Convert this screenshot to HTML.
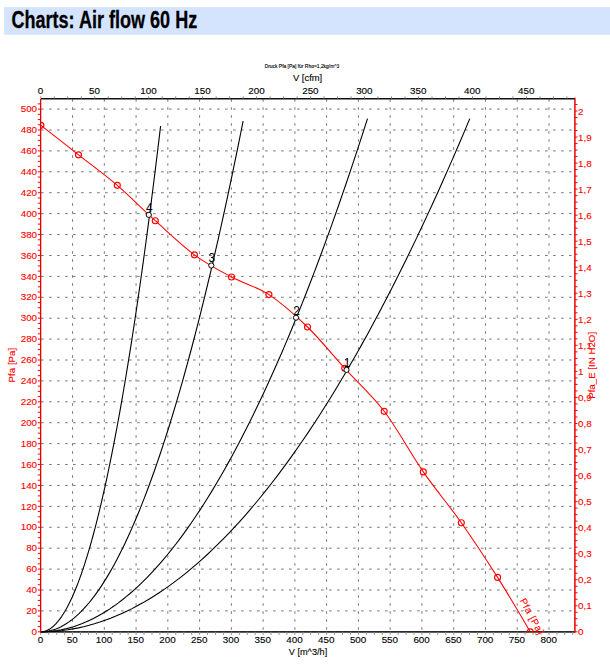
<!DOCTYPE html>
<html lang="en"><head><meta charset="utf-8"><title>Charts: Air flow 60 Hz</title>
<style>html,body{margin:0;padding:0;background:#fff;}body{width:610px;height:665px;overflow:hidden;}svg{display:block;font-family:"Liberation Sans",sans-serif;}.t{font-size:9.85px;fill:#000;stroke:#000;stroke-width:0.12px;} .r{font-size:9.85px;fill:#ff0000;stroke:#ff0000;stroke-width:0.12px;}</style></head><body>
<svg width="610" height="665" viewBox="0 0 610 665">
<rect width="610" height="665" fill="#fff"/>
<rect x="4.1" y="7.05" width="606" height="27.75" fill="#d5e4fe"/>
<text x="11.4" y="28" font-size="23.4" font-weight="bold" fill="#000" stroke="#000" stroke-width="0.3" textLength="185.8" lengthAdjust="spacingAndGlyphs">Charts: Air flow 60 Hz</text>
<text x="302" y="68.3" font-size="5" fill="#000" stroke="#000" stroke-width="0.12" text-anchor="middle" textLength="74.7" lengthAdjust="spacingAndGlyphs">Druck Pfa [Pa] für Rho=1,2kg/m^3</text>
<text class="t" x="307.6" y="81.3" text-anchor="middle" textLength="29.3" lengthAdjust="spacingAndGlyphs">V [cfm]</text>
<defs><clipPath id="pc"><rect x="40.8" y="98.5" width="534.2" height="534.3"/></clipPath></defs>
<g stroke="#7b7b7b" stroke-width="1" stroke-dasharray="2.7 5.3" fill="none">
<line x1="41" x2="575" y1="610.89" y2="610.89"/>
<line x1="41" x2="575" y1="589.98" y2="589.98"/>
<line x1="41" x2="575" y1="569.08" y2="569.08"/>
<line x1="41" x2="575" y1="548.17" y2="548.17"/>
<line x1="41" x2="575" y1="527.26" y2="527.26"/>
<line x1="41" x2="575" y1="506.35" y2="506.35"/>
<line x1="41" x2="575" y1="485.44" y2="485.44"/>
<line x1="41" x2="575" y1="464.54" y2="464.54"/>
<line x1="41" x2="575" y1="443.63" y2="443.63"/>
<line x1="41" x2="575" y1="422.72" y2="422.72"/>
<line x1="41" x2="575" y1="401.81" y2="401.81"/>
<line x1="41" x2="575" y1="380.9" y2="380.9"/>
<line x1="41" x2="575" y1="360" y2="360"/>
<line x1="41" x2="575" y1="339.09" y2="339.09"/>
<line x1="41" x2="575" y1="318.18" y2="318.18"/>
<line x1="41" x2="575" y1="297.27" y2="297.27"/>
<line x1="41" x2="575" y1="276.36" y2="276.36"/>
<line x1="41" x2="575" y1="255.46" y2="255.46"/>
<line x1="41" x2="575" y1="234.55" y2="234.55"/>
<line x1="41" x2="575" y1="213.64" y2="213.64"/>
<line x1="41" x2="575" y1="192.73" y2="192.73"/>
<line x1="41" x2="575" y1="171.82" y2="171.82"/>
<line x1="41" x2="575" y1="150.92" y2="150.92"/>
<line x1="41" x2="575" y1="130.01" y2="130.01"/>
<line x1="41" x2="575" y1="109.1" y2="109.1"/>
</g>
<g stroke="#787878" stroke-width="1" stroke-dasharray="2.6 5.4" fill="none">
<line x1="72.56" x2="72.56" y1="99.2" y2="631.8"/>
<line x1="104.32" x2="104.32" y1="99.2" y2="631.8"/>
<line x1="136.08" x2="136.08" y1="99.2" y2="631.8"/>
<line x1="167.84" x2="167.84" y1="99.2" y2="631.8"/>
<line x1="199.6" x2="199.6" y1="99.2" y2="631.8"/>
<line x1="231.36" x2="231.36" y1="99.2" y2="631.8"/>
<line x1="263.12" x2="263.12" y1="99.2" y2="631.8"/>
<line x1="294.88" x2="294.88" y1="99.2" y2="631.8"/>
<line x1="326.64" x2="326.64" y1="99.2" y2="631.8"/>
<line x1="358.4" x2="358.4" y1="99.2" y2="631.8"/>
<line x1="390.16" x2="390.16" y1="99.2" y2="631.8"/>
<line x1="421.92" x2="421.92" y1="99.2" y2="631.8"/>
<line x1="453.68" x2="453.68" y1="99.2" y2="631.8"/>
<line x1="485.44" x2="485.44" y1="99.2" y2="631.8"/>
<line x1="517.2" x2="517.2" y1="99.2" y2="631.8"/>
<line x1="548.96" x2="548.96" y1="99.2" y2="631.8"/>
</g>
<line x1="40.8" x2="575" y1="98.7" y2="98.7" stroke="#111" stroke-width="1.4"/>
<line x1="40.8" x2="575" y1="631.85" y2="631.85" stroke="#2a2a2a" stroke-width="1.9"/>
<g stroke="#8a8a8a" stroke-width="1">
<line x1="40.8" x2="40.8" y1="96.3" y2="98.5"/>
<line x1="54.29" x2="54.29" y1="96.3" y2="98.5"/>
<line x1="67.78" x2="67.78" y1="96.3" y2="98.5"/>
<line x1="81.27" x2="81.27" y1="96.3" y2="98.5"/>
<line x1="94.76" x2="94.76" y1="96.3" y2="98.5"/>
<line x1="108.25" x2="108.25" y1="96.3" y2="98.5"/>
<line x1="121.74" x2="121.74" y1="96.3" y2="98.5"/>
<line x1="135.23" x2="135.23" y1="96.3" y2="98.5"/>
<line x1="148.72" x2="148.72" y1="96.3" y2="98.5"/>
<line x1="162.21" x2="162.21" y1="96.3" y2="98.5"/>
<line x1="175.7" x2="175.7" y1="96.3" y2="98.5"/>
<line x1="189.19" x2="189.19" y1="96.3" y2="98.5"/>
<line x1="202.68" x2="202.68" y1="96.3" y2="98.5"/>
<line x1="216.17" x2="216.17" y1="96.3" y2="98.5"/>
<line x1="229.66" x2="229.66" y1="96.3" y2="98.5"/>
<line x1="243.15" x2="243.15" y1="96.3" y2="98.5"/>
<line x1="256.64" x2="256.64" y1="96.3" y2="98.5"/>
<line x1="270.13" x2="270.13" y1="96.3" y2="98.5"/>
<line x1="283.62" x2="283.62" y1="96.3" y2="98.5"/>
<line x1="297.11" x2="297.11" y1="96.3" y2="98.5"/>
<line x1="310.6" x2="310.6" y1="96.3" y2="98.5"/>
<line x1="324.09" x2="324.09" y1="96.3" y2="98.5"/>
<line x1="337.58" x2="337.58" y1="96.3" y2="98.5"/>
<line x1="351.07" x2="351.07" y1="96.3" y2="98.5"/>
<line x1="364.56" x2="364.56" y1="96.3" y2="98.5"/>
<line x1="378.05" x2="378.05" y1="96.3" y2="98.5"/>
<line x1="391.54" x2="391.54" y1="96.3" y2="98.5"/>
<line x1="405.03" x2="405.03" y1="96.3" y2="98.5"/>
<line x1="418.52" x2="418.52" y1="96.3" y2="98.5"/>
<line x1="432.01" x2="432.01" y1="96.3" y2="98.5"/>
<line x1="445.5" x2="445.5" y1="96.3" y2="98.5"/>
<line x1="458.99" x2="458.99" y1="96.3" y2="98.5"/>
<line x1="472.48" x2="472.48" y1="96.3" y2="98.5"/>
<line x1="485.97" x2="485.97" y1="96.3" y2="98.5"/>
<line x1="499.46" x2="499.46" y1="96.3" y2="98.5"/>
<line x1="512.95" x2="512.95" y1="96.3" y2="98.5"/>
<line x1="526.44" x2="526.44" y1="96.3" y2="98.5"/>
<line x1="539.93" x2="539.93" y1="96.3" y2="98.5"/>
<line x1="553.42" x2="553.42" y1="96.3" y2="98.5"/>
<line x1="566.91" x2="566.91" y1="96.3" y2="98.5"/>
<line x1="40.8" x2="40.8" y1="631.8" y2="634.8"/>
<line x1="48.74" x2="48.74" y1="631.8" y2="634.8"/>
<line x1="56.68" x2="56.68" y1="631.8" y2="634.8"/>
<line x1="64.62" x2="64.62" y1="631.8" y2="634.8"/>
<line x1="72.56" x2="72.56" y1="631.8" y2="634.8"/>
<line x1="80.5" x2="80.5" y1="631.8" y2="634.8"/>
<line x1="88.44" x2="88.44" y1="631.8" y2="634.8"/>
<line x1="96.38" x2="96.38" y1="631.8" y2="634.8"/>
<line x1="104.32" x2="104.32" y1="631.8" y2="634.8"/>
<line x1="112.26" x2="112.26" y1="631.8" y2="634.8"/>
<line x1="120.2" x2="120.2" y1="631.8" y2="634.8"/>
<line x1="128.14" x2="128.14" y1="631.8" y2="634.8"/>
<line x1="136.08" x2="136.08" y1="631.8" y2="634.8"/>
<line x1="144.02" x2="144.02" y1="631.8" y2="634.8"/>
<line x1="151.96" x2="151.96" y1="631.8" y2="634.8"/>
<line x1="159.9" x2="159.9" y1="631.8" y2="634.8"/>
<line x1="167.84" x2="167.84" y1="631.8" y2="634.8"/>
<line x1="175.78" x2="175.78" y1="631.8" y2="634.8"/>
<line x1="183.72" x2="183.72" y1="631.8" y2="634.8"/>
<line x1="191.66" x2="191.66" y1="631.8" y2="634.8"/>
<line x1="199.6" x2="199.6" y1="631.8" y2="634.8"/>
<line x1="207.54" x2="207.54" y1="631.8" y2="634.8"/>
<line x1="215.48" x2="215.48" y1="631.8" y2="634.8"/>
<line x1="223.42" x2="223.42" y1="631.8" y2="634.8"/>
<line x1="231.36" x2="231.36" y1="631.8" y2="634.8"/>
<line x1="239.3" x2="239.3" y1="631.8" y2="634.8"/>
<line x1="247.24" x2="247.24" y1="631.8" y2="634.8"/>
<line x1="255.18" x2="255.18" y1="631.8" y2="634.8"/>
<line x1="263.12" x2="263.12" y1="631.8" y2="634.8"/>
<line x1="271.06" x2="271.06" y1="631.8" y2="634.8"/>
<line x1="279" x2="279" y1="631.8" y2="634.8"/>
<line x1="286.94" x2="286.94" y1="631.8" y2="634.8"/>
<line x1="294.88" x2="294.88" y1="631.8" y2="634.8"/>
<line x1="302.82" x2="302.82" y1="631.8" y2="634.8"/>
<line x1="310.76" x2="310.76" y1="631.8" y2="634.8"/>
<line x1="318.7" x2="318.7" y1="631.8" y2="634.8"/>
<line x1="326.64" x2="326.64" y1="631.8" y2="634.8"/>
<line x1="334.58" x2="334.58" y1="631.8" y2="634.8"/>
<line x1="342.52" x2="342.52" y1="631.8" y2="634.8"/>
<line x1="350.46" x2="350.46" y1="631.8" y2="634.8"/>
<line x1="358.4" x2="358.4" y1="631.8" y2="634.8"/>
<line x1="366.34" x2="366.34" y1="631.8" y2="634.8"/>
<line x1="374.28" x2="374.28" y1="631.8" y2="634.8"/>
<line x1="382.22" x2="382.22" y1="631.8" y2="634.8"/>
<line x1="390.16" x2="390.16" y1="631.8" y2="634.8"/>
<line x1="398.1" x2="398.1" y1="631.8" y2="634.8"/>
<line x1="406.04" x2="406.04" y1="631.8" y2="634.8"/>
<line x1="413.98" x2="413.98" y1="631.8" y2="634.8"/>
<line x1="421.92" x2="421.92" y1="631.8" y2="634.8"/>
<line x1="429.86" x2="429.86" y1="631.8" y2="634.8"/>
<line x1="437.8" x2="437.8" y1="631.8" y2="634.8"/>
<line x1="445.74" x2="445.74" y1="631.8" y2="634.8"/>
<line x1="453.68" x2="453.68" y1="631.8" y2="634.8"/>
<line x1="461.62" x2="461.62" y1="631.8" y2="634.8"/>
<line x1="469.56" x2="469.56" y1="631.8" y2="634.8"/>
<line x1="477.5" x2="477.5" y1="631.8" y2="634.8"/>
<line x1="485.44" x2="485.44" y1="631.8" y2="634.8"/>
<line x1="493.38" x2="493.38" y1="631.8" y2="634.8"/>
<line x1="501.32" x2="501.32" y1="631.8" y2="634.8"/>
<line x1="509.26" x2="509.26" y1="631.8" y2="634.8"/>
<line x1="517.2" x2="517.2" y1="631.8" y2="634.8"/>
<line x1="525.14" x2="525.14" y1="631.8" y2="634.8"/>
<line x1="533.08" x2="533.08" y1="631.8" y2="634.8"/>
<line x1="541.02" x2="541.02" y1="631.8" y2="634.8"/>
<line x1="548.96" x2="548.96" y1="631.8" y2="634.8"/>
<line x1="556.9" x2="556.9" y1="631.8" y2="634.8"/>
<line x1="564.84" x2="564.84" y1="631.8" y2="634.8"/>
<line x1="572.78" x2="572.78" y1="631.8" y2="634.8"/>
</g>
<g stroke="#000" stroke-width="1.1" fill="none" stroke-linejoin="round">
<polyline points="40.8,631.8 46.16,631.72 51.52,631.48 56.89,631.08 62.25,630.52 67.61,629.8 72.97,628.91 78.34,627.87 83.7,626.67 89.06,625.3 94.42,623.78 99.79,622.1 105.15,620.25 110.51,618.25 115.87,616.08 121.24,613.76 126.6,611.27 131.96,608.63 137.32,605.82 142.69,602.85 148.05,599.72 153.41,596.44 158.78,592.99 164.14,589.38 169.5,585.61 174.86,581.68 180.23,577.59 185.59,573.34 190.95,568.93 196.31,564.36 201.68,559.63 207.04,554.74 212.4,549.69 217.76,544.48 223.12,539.1 228.49,533.57 233.85,527.88 239.21,522.02 244.57,516.01 249.94,509.83 255.3,503.5 260.66,497 266.03,490.35 271.39,483.53 276.75,476.56 282.11,469.42 287.47,462.12 292.84,454.67 298.2,447.05 303.56,439.27 308.93,431.33 314.29,423.23 319.65,414.97 325.01,406.55 330.38,397.97 335.74,389.23 341.1,380.33 346.46,371.27 351.82,362.05 357.19,352.67 362.55,343.12 367.91,333.42 373.28,323.56 378.64,313.54 384,303.35 389.36,293.01 394.72,282.5 400.09,271.84 405.45,261.01 410.81,250.03 416.18,238.88 421.54,227.57 426.9,216.11 432.26,204.48 437.63,192.69 442.99,180.75 448.35,168.64 453.71,156.37 459.07,143.94 464.44,131.35 469.8,118.6"/>
<polyline points="40.8,631.8 44.88,631.72 48.97,631.48 53.05,631.08 57.13,630.52 61.22,629.8 65.3,628.91 69.39,627.87 73.47,626.67 77.55,625.3 81.64,623.78 85.72,622.1 89.8,620.25 93.89,618.25 97.97,616.08 102.06,613.76 106.14,611.27 110.22,608.63 114.31,605.82 118.39,602.85 122.47,599.72 126.56,596.44 130.64,592.99 134.73,589.38 138.81,585.61 142.89,581.68 146.98,577.59 151.06,573.34 155.14,568.93 159.23,564.36 163.31,559.63 167.4,554.74 171.48,549.69 175.56,544.48 179.65,539.1 183.73,533.57 187.81,527.88 191.9,522.02 195.98,516.01 200.07,509.83 204.15,503.5 208.23,497 212.32,490.35 216.4,483.53 220.49,476.56 224.57,469.42 228.65,462.12 232.74,454.67 236.82,447.05 240.9,439.27 244.99,431.33 249.07,423.23 253.15,414.97 257.24,406.55 261.32,397.97 265.41,389.23 269.49,380.33 273.57,371.27 277.66,362.05 281.74,352.67 285.82,343.12 289.91,333.42 293.99,323.56 298.08,313.54 302.16,303.35 306.24,293.01 310.33,282.5 314.41,271.84 318.5,261.01 322.58,250.03 326.66,238.88 330.75,227.57 334.83,216.11 338.91,204.48 343,192.69 347.08,180.75 351.16,168.64 355.25,156.37 359.33,143.94 363.42,131.35 367.5,118.6"/>
<polyline points="40.8,631.8 43.33,631.72 45.86,631.48 48.39,631.08 50.91,630.52 53.44,629.8 55.97,628.93 58.5,627.89 61.03,626.69 63.56,625.34 66.09,623.82 68.62,622.14 71.14,620.31 73.67,618.31 76.2,616.16 78.73,613.84 81.26,611.37 83.79,608.74 86.32,605.94 88.85,602.99 91.38,599.88 93.9,596.61 96.43,593.17 98.96,589.58 101.49,585.83 104.02,581.92 106.55,577.85 109.08,573.62 111.6,569.23 114.13,564.68 116.66,559.98 119.19,555.11 121.72,550.08 124.25,544.89 126.78,539.55 129.31,534.04 131.84,528.37 134.36,522.55 136.89,516.56 139.42,510.42 141.95,504.11 144.48,497.65 147.01,491.02 149.54,484.24 152.06,477.3 154.59,470.2 157.12,462.93 159.65,455.51 162.18,447.93 164.71,440.19 167.24,432.29 169.77,424.23 172.3,416.01 174.82,407.63 177.35,399.09 179.88,390.39 182.41,381.53 184.94,372.51 187.47,363.34 190,354 192.53,344.5 195.05,334.85 197.58,325.03 200.11,315.06 202.64,304.92 205.17,294.63 207.7,284.17 210.23,273.56 212.75,262.78 215.28,251.85 217.81,240.76 220.34,229.5 222.87,218.09 225.4,206.52 227.93,194.79 230.46,182.9 232.99,170.85 235.51,158.64 238.04,146.27 240.57,133.74 243.1,121.05"/>
<polyline points="40.8,631.8 42.3,631.72 43.79,631.48 45.29,631.09 46.79,630.54 48.29,629.82 49.78,628.95 51.28,627.93 52.78,626.74 54.28,625.4 55.77,623.9 57.27,622.24 58.77,620.42 60.27,618.44 61.77,616.31 63.26,614.02 64.76,611.57 66.26,608.96 67.75,606.19 69.25,603.27 70.75,600.19 72.25,596.95 73.75,593.55 75.24,589.99 76.74,586.28 78.24,582.41 79.73,578.37 81.23,574.19 82.73,569.84 84.23,565.33 85.72,560.67 87.22,555.85 88.72,550.87 90.22,545.73 91.72,540.44 93.21,534.99 94.71,529.38 96.21,523.61 97.7,517.68 99.2,511.59 100.7,505.35 102.2,498.95 103.69,492.39 105.19,485.67 106.69,478.8 108.19,471.76 109.68,464.57 111.18,457.22 112.68,449.71 114.18,442.05 115.67,434.22 117.17,426.24 118.67,418.1 120.17,409.8 121.67,401.34 123.16,392.73 124.66,383.96 126.16,375.03 127.65,365.94 129.15,356.69 130.65,347.29 132.15,337.72 133.64,328 135.14,318.12 136.64,308.09 138.14,297.89 139.63,287.54 141.13,277.03 142.63,266.36 144.13,255.53 145.62,244.55 147.12,233.4 148.62,222.1 150.12,210.64 151.62,199.02 153.11,187.25 154.61,175.32 156.11,163.22 157.6,150.97 159.1,138.57 160.6,126"/>
</g>
<g clip-path="url(#pc)" stroke="#ff0000" fill="none">
<path stroke-width="1.05" d="M40.9,125.3 C47.17,130.22 65.77,144.8 78.5,154.8 C91.23,164.8 104.5,174.32 117.3,185.3 C130.1,196.28 142.45,209.12 155.3,220.7 C168.15,232.28 181.7,245.42 194.4,254.8 C207.1,264.18 219.08,270.37 231.5,277 C243.92,283.63 256.23,286.27 268.9,294.6 C281.57,302.93 294.87,314.72 307.5,327 C320.13,339.28 331.92,354.25 344.7,368.3 C357.48,382.35 371.1,394.03 384.2,411.3 C397.3,428.57 410.45,453.33 423.3,471.9 C436.15,490.47 448.92,505.12 461.3,522.7 C473.68,540.28 486.1,559.22 497.6,577.4 C509.1,595.58 524.85,622.73 530.3,631.8"/>
<circle cx="40.9" cy="125.3" r="3" stroke-width="1.15"/>
<circle cx="78.5" cy="154.8" r="3" stroke-width="1.15"/>
<circle cx="117.3" cy="185.3" r="3" stroke-width="1.15"/>
<circle cx="155.3" cy="220.7" r="3" stroke-width="1.15"/>
<circle cx="194.4" cy="254.8" r="3" stroke-width="1.15"/>
<circle cx="231.5" cy="277" r="3" stroke-width="1.15"/>
<circle cx="268.9" cy="294.6" r="3" stroke-width="1.15"/>
<circle cx="307.5" cy="327" r="3" stroke-width="1.15"/>
<circle cx="344.7" cy="368.3" r="3" stroke-width="1.15"/>
<circle cx="384.2" cy="411.3" r="3" stroke-width="1.15"/>
<circle cx="423.3" cy="471.9" r="3" stroke-width="1.15"/>
<circle cx="461.3" cy="522.7" r="3" stroke-width="1.15"/>
<circle cx="497.6" cy="577.4" r="3" stroke-width="1.15"/>
<circle cx="530.3" cy="631.8" r="3" stroke-width="1.15"/>
</g>
<line x1="40.65" x2="40.65" y1="99.1" y2="632.7" stroke="#e80000" stroke-width="1.3"/>
<line x1="574.9" x2="574.9" y1="97.8" y2="632.7" stroke="#e80000" stroke-width="1.5"/>
<g stroke="#ff0000" stroke-width="1">
<line x1="37.8" x2="40.2" y1="631.8" y2="631.8"/>
<line x1="37.8" x2="40.2" y1="626.57" y2="626.57"/>
<line x1="37.8" x2="40.2" y1="621.35" y2="621.35"/>
<line x1="37.8" x2="40.2" y1="616.12" y2="616.12"/>
<line x1="37.8" x2="40.2" y1="610.89" y2="610.89"/>
<line x1="37.8" x2="40.2" y1="605.66" y2="605.66"/>
<line x1="37.8" x2="40.2" y1="600.44" y2="600.44"/>
<line x1="37.8" x2="40.2" y1="595.21" y2="595.21"/>
<line x1="37.8" x2="40.2" y1="589.98" y2="589.98"/>
<line x1="37.8" x2="40.2" y1="584.76" y2="584.76"/>
<line x1="37.8" x2="40.2" y1="579.53" y2="579.53"/>
<line x1="37.8" x2="40.2" y1="574.3" y2="574.3"/>
<line x1="37.8" x2="40.2" y1="569.08" y2="569.08"/>
<line x1="37.8" x2="40.2" y1="563.85" y2="563.85"/>
<line x1="37.8" x2="40.2" y1="558.62" y2="558.62"/>
<line x1="37.8" x2="40.2" y1="553.39" y2="553.39"/>
<line x1="37.8" x2="40.2" y1="548.17" y2="548.17"/>
<line x1="37.8" x2="40.2" y1="542.94" y2="542.94"/>
<line x1="37.8" x2="40.2" y1="537.71" y2="537.71"/>
<line x1="37.8" x2="40.2" y1="532.49" y2="532.49"/>
<line x1="37.8" x2="40.2" y1="527.26" y2="527.26"/>
<line x1="37.8" x2="40.2" y1="522.03" y2="522.03"/>
<line x1="37.8" x2="40.2" y1="516.81" y2="516.81"/>
<line x1="37.8" x2="40.2" y1="511.58" y2="511.58"/>
<line x1="37.8" x2="40.2" y1="506.35" y2="506.35"/>
<line x1="37.8" x2="40.2" y1="501.12" y2="501.12"/>
<line x1="37.8" x2="40.2" y1="495.9" y2="495.9"/>
<line x1="37.8" x2="40.2" y1="490.67" y2="490.67"/>
<line x1="37.8" x2="40.2" y1="485.44" y2="485.44"/>
<line x1="37.8" x2="40.2" y1="480.22" y2="480.22"/>
<line x1="37.8" x2="40.2" y1="474.99" y2="474.99"/>
<line x1="37.8" x2="40.2" y1="469.76" y2="469.76"/>
<line x1="37.8" x2="40.2" y1="464.54" y2="464.54"/>
<line x1="37.8" x2="40.2" y1="459.31" y2="459.31"/>
<line x1="37.8" x2="40.2" y1="454.08" y2="454.08"/>
<line x1="37.8" x2="40.2" y1="448.85" y2="448.85"/>
<line x1="37.8" x2="40.2" y1="443.63" y2="443.63"/>
<line x1="37.8" x2="40.2" y1="438.4" y2="438.4"/>
<line x1="37.8" x2="40.2" y1="433.17" y2="433.17"/>
<line x1="37.8" x2="40.2" y1="427.95" y2="427.95"/>
<line x1="37.8" x2="40.2" y1="422.72" y2="422.72"/>
<line x1="37.8" x2="40.2" y1="417.49" y2="417.49"/>
<line x1="37.8" x2="40.2" y1="412.27" y2="412.27"/>
<line x1="37.8" x2="40.2" y1="407.04" y2="407.04"/>
<line x1="37.8" x2="40.2" y1="401.81" y2="401.81"/>
<line x1="37.8" x2="40.2" y1="396.58" y2="396.58"/>
<line x1="37.8" x2="40.2" y1="391.36" y2="391.36"/>
<line x1="37.8" x2="40.2" y1="386.13" y2="386.13"/>
<line x1="37.8" x2="40.2" y1="380.9" y2="380.9"/>
<line x1="37.8" x2="40.2" y1="375.68" y2="375.68"/>
<line x1="37.8" x2="40.2" y1="370.45" y2="370.45"/>
<line x1="37.8" x2="40.2" y1="365.22" y2="365.22"/>
<line x1="37.8" x2="40.2" y1="360" y2="360"/>
<line x1="37.8" x2="40.2" y1="354.77" y2="354.77"/>
<line x1="37.8" x2="40.2" y1="349.54" y2="349.54"/>
<line x1="37.8" x2="40.2" y1="344.31" y2="344.31"/>
<line x1="37.8" x2="40.2" y1="339.09" y2="339.09"/>
<line x1="37.8" x2="40.2" y1="333.86" y2="333.86"/>
<line x1="37.8" x2="40.2" y1="328.63" y2="328.63"/>
<line x1="37.8" x2="40.2" y1="323.41" y2="323.41"/>
<line x1="37.8" x2="40.2" y1="318.18" y2="318.18"/>
<line x1="37.8" x2="40.2" y1="312.95" y2="312.95"/>
<line x1="37.8" x2="40.2" y1="307.73" y2="307.73"/>
<line x1="37.8" x2="40.2" y1="302.5" y2="302.5"/>
<line x1="37.8" x2="40.2" y1="297.27" y2="297.27"/>
<line x1="37.8" x2="40.2" y1="292.04" y2="292.04"/>
<line x1="37.8" x2="40.2" y1="286.82" y2="286.82"/>
<line x1="37.8" x2="40.2" y1="281.59" y2="281.59"/>
<line x1="37.8" x2="40.2" y1="276.36" y2="276.36"/>
<line x1="37.8" x2="40.2" y1="271.14" y2="271.14"/>
<line x1="37.8" x2="40.2" y1="265.91" y2="265.91"/>
<line x1="37.8" x2="40.2" y1="260.68" y2="260.68"/>
<line x1="37.8" x2="40.2" y1="255.46" y2="255.46"/>
<line x1="37.8" x2="40.2" y1="250.23" y2="250.23"/>
<line x1="37.8" x2="40.2" y1="245" y2="245"/>
<line x1="37.8" x2="40.2" y1="239.77" y2="239.77"/>
<line x1="37.8" x2="40.2" y1="234.55" y2="234.55"/>
<line x1="37.8" x2="40.2" y1="229.32" y2="229.32"/>
<line x1="37.8" x2="40.2" y1="224.09" y2="224.09"/>
<line x1="37.8" x2="40.2" y1="218.87" y2="218.87"/>
<line x1="37.8" x2="40.2" y1="213.64" y2="213.64"/>
<line x1="37.8" x2="40.2" y1="208.41" y2="208.41"/>
<line x1="37.8" x2="40.2" y1="203.19" y2="203.19"/>
<line x1="37.8" x2="40.2" y1="197.96" y2="197.96"/>
<line x1="37.8" x2="40.2" y1="192.73" y2="192.73"/>
<line x1="37.8" x2="40.2" y1="187.5" y2="187.5"/>
<line x1="37.8" x2="40.2" y1="182.28" y2="182.28"/>
<line x1="37.8" x2="40.2" y1="177.05" y2="177.05"/>
<line x1="37.8" x2="40.2" y1="171.82" y2="171.82"/>
<line x1="37.8" x2="40.2" y1="166.6" y2="166.6"/>
<line x1="37.8" x2="40.2" y1="161.37" y2="161.37"/>
<line x1="37.8" x2="40.2" y1="156.14" y2="156.14"/>
<line x1="37.8" x2="40.2" y1="150.92" y2="150.92"/>
<line x1="37.8" x2="40.2" y1="145.69" y2="145.69"/>
<line x1="37.8" x2="40.2" y1="140.46" y2="140.46"/>
<line x1="37.8" x2="40.2" y1="135.23" y2="135.23"/>
<line x1="37.8" x2="40.2" y1="130.01" y2="130.01"/>
<line x1="37.8" x2="40.2" y1="124.78" y2="124.78"/>
<line x1="37.8" x2="40.2" y1="119.55" y2="119.55"/>
<line x1="37.8" x2="40.2" y1="114.33" y2="114.33"/>
<line x1="37.8" x2="40.2" y1="109.1" y2="109.1"/>
<line x1="37.8" x2="40.2" y1="103.87" y2="103.87"/>
<line x1="575" x2="577.5" y1="631.8" y2="631.8"/>
<line x1="575" x2="577.5" y1="625.29" y2="625.29"/>
<line x1="575" x2="577.5" y1="618.78" y2="618.78"/>
<line x1="575" x2="577.5" y1="612.27" y2="612.27"/>
<line x1="575" x2="577.5" y1="605.76" y2="605.76"/>
<line x1="575" x2="577.5" y1="599.25" y2="599.25"/>
<line x1="575" x2="577.5" y1="592.74" y2="592.74"/>
<line x1="575" x2="577.5" y1="586.23" y2="586.23"/>
<line x1="575" x2="577.5" y1="579.72" y2="579.72"/>
<line x1="575" x2="577.5" y1="573.21" y2="573.21"/>
<line x1="575" x2="577.5" y1="566.7" y2="566.7"/>
<line x1="575" x2="577.5" y1="560.19" y2="560.19"/>
<line x1="575" x2="577.5" y1="553.68" y2="553.68"/>
<line x1="575" x2="577.5" y1="547.17" y2="547.17"/>
<line x1="575" x2="577.5" y1="540.66" y2="540.66"/>
<line x1="575" x2="577.5" y1="534.15" y2="534.15"/>
<line x1="575" x2="577.5" y1="527.64" y2="527.64"/>
<line x1="575" x2="577.5" y1="521.13" y2="521.13"/>
<line x1="575" x2="577.5" y1="514.62" y2="514.62"/>
<line x1="575" x2="577.5" y1="508.11" y2="508.11"/>
<line x1="575" x2="577.5" y1="501.6" y2="501.6"/>
<line x1="575" x2="577.5" y1="495.09" y2="495.09"/>
<line x1="575" x2="577.5" y1="488.58" y2="488.58"/>
<line x1="575" x2="577.5" y1="482.07" y2="482.07"/>
<line x1="575" x2="577.5" y1="475.56" y2="475.56"/>
<line x1="575" x2="577.5" y1="469.05" y2="469.05"/>
<line x1="575" x2="577.5" y1="462.54" y2="462.54"/>
<line x1="575" x2="577.5" y1="456.03" y2="456.03"/>
<line x1="575" x2="577.5" y1="449.52" y2="449.52"/>
<line x1="575" x2="577.5" y1="443.01" y2="443.01"/>
<line x1="575" x2="577.5" y1="436.5" y2="436.5"/>
<line x1="575" x2="577.5" y1="429.99" y2="429.99"/>
<line x1="575" x2="577.5" y1="423.48" y2="423.48"/>
<line x1="575" x2="577.5" y1="416.97" y2="416.97"/>
<line x1="575" x2="577.5" y1="410.46" y2="410.46"/>
<line x1="575" x2="577.5" y1="403.95" y2="403.95"/>
<line x1="575" x2="577.5" y1="397.44" y2="397.44"/>
<line x1="575" x2="577.5" y1="390.93" y2="390.93"/>
<line x1="575" x2="577.5" y1="384.42" y2="384.42"/>
<line x1="575" x2="577.5" y1="377.91" y2="377.91"/>
<line x1="575" x2="577.5" y1="371.4" y2="371.4"/>
<line x1="575" x2="577.5" y1="364.89" y2="364.89"/>
<line x1="575" x2="577.5" y1="358.38" y2="358.38"/>
<line x1="575" x2="577.5" y1="351.87" y2="351.87"/>
<line x1="575" x2="577.5" y1="345.36" y2="345.36"/>
<line x1="575" x2="577.5" y1="338.85" y2="338.85"/>
<line x1="575" x2="577.5" y1="332.34" y2="332.34"/>
<line x1="575" x2="577.5" y1="325.83" y2="325.83"/>
<line x1="575" x2="577.5" y1="319.32" y2="319.32"/>
<line x1="575" x2="577.5" y1="312.81" y2="312.81"/>
<line x1="575" x2="577.5" y1="306.3" y2="306.3"/>
<line x1="575" x2="577.5" y1="299.79" y2="299.79"/>
<line x1="575" x2="577.5" y1="293.28" y2="293.28"/>
<line x1="575" x2="577.5" y1="286.77" y2="286.77"/>
<line x1="575" x2="577.5" y1="280.26" y2="280.26"/>
<line x1="575" x2="577.5" y1="273.75" y2="273.75"/>
<line x1="575" x2="577.5" y1="267.24" y2="267.24"/>
<line x1="575" x2="577.5" y1="260.73" y2="260.73"/>
<line x1="575" x2="577.5" y1="254.22" y2="254.22"/>
<line x1="575" x2="577.5" y1="247.71" y2="247.71"/>
<line x1="575" x2="577.5" y1="241.2" y2="241.2"/>
<line x1="575" x2="577.5" y1="234.69" y2="234.69"/>
<line x1="575" x2="577.5" y1="228.18" y2="228.18"/>
<line x1="575" x2="577.5" y1="221.67" y2="221.67"/>
<line x1="575" x2="577.5" y1="215.16" y2="215.16"/>
<line x1="575" x2="577.5" y1="208.65" y2="208.65"/>
<line x1="575" x2="577.5" y1="202.14" y2="202.14"/>
<line x1="575" x2="577.5" y1="195.63" y2="195.63"/>
<line x1="575" x2="577.5" y1="189.12" y2="189.12"/>
<line x1="575" x2="577.5" y1="182.61" y2="182.61"/>
<line x1="575" x2="577.5" y1="176.1" y2="176.1"/>
<line x1="575" x2="577.5" y1="169.59" y2="169.59"/>
<line x1="575" x2="577.5" y1="163.08" y2="163.08"/>
<line x1="575" x2="577.5" y1="156.57" y2="156.57"/>
<line x1="575" x2="577.5" y1="150.06" y2="150.06"/>
<line x1="575" x2="577.5" y1="143.55" y2="143.55"/>
<line x1="575" x2="577.5" y1="137.04" y2="137.04"/>
<line x1="575" x2="577.5" y1="130.53" y2="130.53"/>
<line x1="575" x2="577.5" y1="124.02" y2="124.02"/>
<line x1="575" x2="577.5" y1="117.51" y2="117.51"/>
<line x1="575" x2="577.5" y1="111" y2="111"/>
<line x1="575" x2="577.5" y1="104.49" y2="104.49"/>
</g>
<g class="t" text-anchor="middle">
<text x="40.6" y="94.05">0</text>
<text x="94.56" y="94.05">50</text>
<text x="148.52" y="94.05">100</text>
<text x="202.48" y="94.05">150</text>
<text x="256.44" y="94.05">200</text>
<text x="310.4" y="94.05">250</text>
<text x="364.36" y="94.05">300</text>
<text x="418.32" y="94.05">350</text>
<text x="472.28" y="94.05">400</text>
<text x="526.24" y="94.05">450</text>
<text x="40.5" y="643.45">0</text>
<text x="72.26" y="643.45">50</text>
<text x="104.02" y="643.45">100</text>
<text x="135.78" y="643.45">150</text>
<text x="167.54" y="643.45">200</text>
<text x="199.3" y="643.45">250</text>
<text x="231.06" y="643.45">300</text>
<text x="262.82" y="643.45">350</text>
<text x="294.58" y="643.45">400</text>
<text x="326.34" y="643.45">450</text>
<text x="358.1" y="643.45">500</text>
<text x="389.86" y="643.45">550</text>
<text x="421.62" y="643.45">600</text>
<text x="453.38" y="643.45">650</text>
<text x="485.14" y="643.45">700</text>
<text x="516.9" y="643.45">750</text>
<text x="548.66" y="643.45">800</text>
<text x="308" y="654.9" textLength="38.6" lengthAdjust="spacingAndGlyphs">V [m^3/h]</text>
</g>
<g class="r" text-anchor="end">
<text x="37.1" y="635">0</text>
<text x="37.1" y="614.09">20</text>
<text x="37.1" y="593.18">40</text>
<text x="37.1" y="572.28">60</text>
<text x="37.1" y="551.37">80</text>
<text x="37.1" y="530.46">100</text>
<text x="37.1" y="509.55">120</text>
<text x="37.1" y="488.64">140</text>
<text x="37.1" y="467.74">160</text>
<text x="37.1" y="446.83">180</text>
<text x="37.1" y="425.92">200</text>
<text x="37.1" y="405.01">220</text>
<text x="37.1" y="384.1">240</text>
<text x="37.1" y="363.2">260</text>
<text x="37.1" y="342.29">280</text>
<text x="37.1" y="321.38">300</text>
<text x="37.1" y="300.47">320</text>
<text x="37.1" y="279.56">340</text>
<text x="37.1" y="258.66">360</text>
<text x="37.1" y="237.75">380</text>
<text x="37.1" y="216.84">400</text>
<text x="37.1" y="195.93">420</text>
<text x="37.1" y="175.02">440</text>
<text x="37.1" y="154.12">460</text>
<text x="37.1" y="133.21">480</text>
<text x="37.1" y="112.3">500</text>
</g>
<g class="r">
<text x="578" y="635.3">0</text>
<text x="578" y="609.26">0,1</text>
<text x="578" y="583.22">0,2</text>
<text x="578" y="557.18">0,3</text>
<text x="578" y="531.14">0,4</text>
<text x="578" y="505.1">0,5</text>
<text x="578" y="479.06">0,6</text>
<text x="578" y="453.02">0,7</text>
<text x="578" y="426.98">0,8</text>
<text x="578" y="400.94">0,9</text>
<text x="578" y="374.9">1</text>
<text x="578" y="348.86">1,1</text>
<text x="578" y="322.82">1,2</text>
<text x="578" y="296.78">1,3</text>
<text x="578" y="270.74">1,4</text>
<text x="578" y="244.7">1,5</text>
<text x="578" y="218.66">1,6</text>
<text x="578" y="192.62">1,7</text>
<text x="578" y="166.58">1,8</text>
<text x="578" y="140.54">1,9</text>
<text x="578" y="114.5">2</text>
</g>
<text class="r" transform="translate(15.3,365.1) rotate(-90)" text-anchor="middle" textLength="34.8" lengthAdjust="spacing">Pfa [Pa]</text>
<text class="r" transform="translate(594.8,398.8) rotate(-90)" textLength="66.9" lengthAdjust="spacingAndGlyphs">Pfa_E [IN H2O]</text>
<text class="r" transform="translate(519.4,600.5) rotate(61.5)" textLength="39.5" lengthAdjust="spacing">Pfa [Pa]</text>
<circle cx="346.5" cy="369.9" r="2.6" fill="#fff" stroke="#000" stroke-width="1"/>
<text x="347" y="366.7" font-size="12" fill="#000" text-anchor="middle">1</text>
<circle cx="296" cy="317.7" r="2.6" fill="#fff" stroke="#000" stroke-width="1"/>
<text x="296.5" y="314.5" font-size="12" fill="#000" text-anchor="middle">2</text>
<circle cx="211.3" cy="265.5" r="2.6" fill="#fff" stroke="#000" stroke-width="1"/>
<text x="211.8" y="262.3" font-size="12" fill="#000" text-anchor="middle">3</text>
<circle cx="148.8" cy="214.9" r="2.6" fill="#fff" stroke="#000" stroke-width="1"/>
<text x="149.3" y="211.7" font-size="12" fill="#000" text-anchor="middle">4</text>
</svg></body></html>
